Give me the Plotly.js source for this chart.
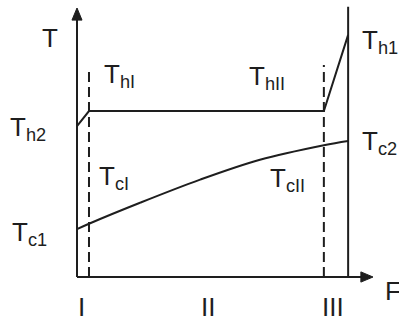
<!DOCTYPE html>
<html>
<head>
<meta charset="utf-8">
<script src="https://cdn.plot.ly/plotly-3.0.1.min.js"></script>
<style>html,body{margin:0;padding:0;background:#fff;}#chart{width:399px;height:325px;}</style>
</head>
<body>
<div id="chart"></div>
<script>
// Schematic data (F along flow, T temperature, arbitrary units 0..100)
var hotF = [0, 4.05, 83.4, 91.6];
var hotT = [56.1, 61.7, 61.7, 90.0];
var coldF = [0, 4.05, 21.3, 41.6, 61.8, 83.4, 91.6];
var coldT = [17.8, 19.8, 27.6, 36.2, 43.6, 49.0, 50.6];
var stageF = [4.05, 83.4];        // boundaries of zones I | II | III
var stageTop = [78.1, 78.8];
var wallF = 91.6;
var zoneLabels = ['I', 'II', 'III'];
var tempLabels = ['T<sub>h2</sub>', 'T<sub>c1</sub>', 'T<sub>hI</sub>', 'T<sub>cI</sub>',
                  'T<sub>hII</sub>', 'T<sub>cII</sub>', 'T<sub>h1</sub>', 'T<sub>c2</sub>'];

var SX = 2.96, SY = 2.69, OX = 77, OY = 277;
function fx(px){ return (px - OX) / SX; }
function fy(py){ return (OY - py) / SY; }

var ink = '#1e1e1e';
var fnt = {family: '"Liberation Sans", Arial, sans-serif', size: 26, color: ink};

var traces = [
  {x: hotF, y: hotT, mode: 'lines', line: {color: ink, width: 2}, hoverinfo: 'skip'},
  {x: coldF, y: coldT, mode: 'lines', line: {color: ink, width: 2, shape: 'spline', smoothing: 1}, hoverinfo: 'skip'}
];

var shapes = [
  {type: 'line', x0: 0, x1: 0, y0: 0, y1: 96, line: {color: ink, width: 2}},
  {type: 'line', x0: 0, x1: 96, y0: 0, y1: 0, line: {color: ink, width: 2}},
  {type: 'line', x0: wallF, x1: wallF, y0: 0, y1: 100.5, line: {color: ink, width: 2}},
  {type: 'path', path: 'M0,100 L-1.7,95.5 L1.7,95.5 Z', fillcolor: ink, line: {color: ink, width: 1}},
  {type: 'path', path: 'M100,0 L95.9,1.9 L95.9,-1.9 Z', fillcolor: ink, line: {color: ink, width: 1}}
];
stageF.forEach(function(f, i){
  shapes.push({type: 'line', x0: f, x1: f, y0: 0, y1: stageTop[i], line: {color: ink, width: 2, dash: '10px,5px'}});
});

var labelPos = [[8,128],[10,233],[102,75],[97,177],[247,77],[268,179],[360,41],[360,142]];
var annotations = [];
tempLabels.forEach(function(t, i){
  annotations.push({x: fx(labelPos[i][0]), y: fy(labelPos[i][1]), text: t, showarrow: false,
    xanchor: 'left', yanchor: 'middle', font: fnt, xref: 'x', yref: 'y'});
});
annotations.push({x: fx(40), y: fy(38), text: 'T', showarrow: false, xanchor: 'left', yanchor: 'middle', font: fnt});
annotations.push({x: fx(383), y: fy(291), text: 'F', showarrow: false, xanchor: 'left', yanchor: 'middle', font: fnt});
var zonePx = [81, 208, 333];
zoneLabels.forEach(function(z, i){
  annotations.push({x: fx(zonePx[i]), y: fy(307), text: z, showarrow: false, xanchor: 'center', yanchor: 'middle', font: fnt});
});

var layout = {
  width: 399, height: 325,
  margin: {l: 0, r: 0, t: 0, b: 0, pad: 0},
  paper_bgcolor: '#fff', plot_bgcolor: '#fff',
  showlegend: false,
  xaxis: {range: [fx(0), fx(399)], visible: false, fixedrange: true},
  yaxis: {range: [fy(325), fy(0)], visible: false, fixedrange: true},
  shapes: shapes,
  annotations: annotations
};
Plotly.newPlot('chart', traces, layout, {staticPlot: true, displayModeBar: false});
</script>
</body>
</html>
